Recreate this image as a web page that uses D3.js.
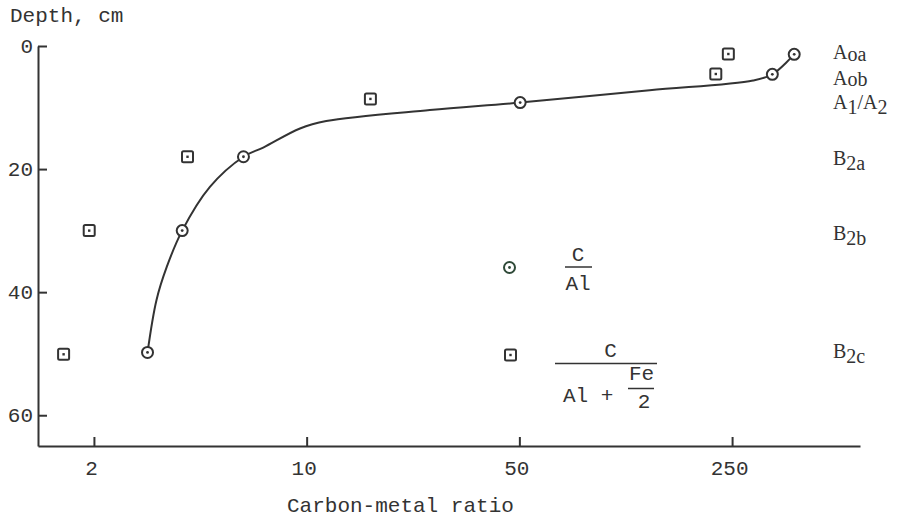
<!DOCTYPE html>
<html>
<head>
<meta charset="utf-8">
<script src="https://cdn.jsdelivr.net/npm/d3@7"></script>
<style>
  html, body { margin: 0; padding: 0; background: #fff; }
  svg { display: block; }
  .mono { font-family: "Liberation Mono", "DejaVu Sans Mono", monospace; fill: #333; }
  .serif { font-family: "Liberation Serif", "DejaVu Serif", serif; fill: #333; }
</style>
</head>
<body>
<svg id="chart" width="901" height="523"></svg>
<script>
// ---- data ----
// C/Al ratio (circles): ratio, depth (cm)
const circleRatio = [3.0, 3.9, 6.2, 50.3, 339, 400];
const circleDepth = [49.8, 30.0, 18.0, 9.2, 4.6, 1.35];
// C/(Al + Fe/2) ratio (squares)
const squareRatio = [1.59, 1.93, 4.06, 16.2, 221, 243];
const squareDepth = [50.1, 30.0, 18.0, 8.6, 4.55, 1.3];
// hand-drawn fitted curve through the C/Al points
const curveRatio = [3.0, 3.21, 3.47, 3.9, 4.81, 6.2, 7.2, 9.51, 11.6, 25.4, 50.3, 134, 293, 339, 400];
const curveDepth = [49.8, 41.3, 35.9, 30.0, 22.9, 18.0, 16.5, 13.4, 12.2, 10.4, 9.2, 7.2, 5.6, 4.6, 1.35];
// axis ticks
const xTicks = [2, 10, 50, 250];
const yTicks = [0, 20, 40, 60];
// horizon labels: segments [text, isSub], depth position
const horizonParts = [
  [["A",0],["oa",2]],
  [["A",0],["ob",1]],
  [["A",0],["1",1],["/A",0],["2",1]],
  [["B",0],["2a",1]],
  [["B",0],["2b",1]],
  [["B",0],["2c",1]]
];
const horizonDepth = [1.14, 5.3, 9.3, 18.4, 30.6, 49.8];

// ---- scales ----
const svg = d3.select("#chart");
const x = d3.scaleLog().domain([1.31, 658]).range([38, 860]);
const y = d3.scaleLinear().domain([0, 65]).range([46, 446]);
const ink = "#333";
const FS = 21;

// ---- axes ----
const yAxis = d3.axisLeft(y).tickValues(yTicks).tickSizeInner(-9).tickSizeOuter(0).tickPadding(5);
const gy = svg.append("g").attr("transform", "translate(38,0)").call(yAxis);
const xAxis = d3.axisBottom(x).tickValues(xTicks).tickFormat(d3.format("d")).tickSizeInner(-9).tickSizeOuter(0).tickPadding(14);
const gx = svg.append("g").attr("transform", "translate(0,446)").call(xAxis);
[gx, gy].forEach(g => {
  g.select(".domain").attr("stroke", ink).attr("stroke-width", 2);
  g.selectAll(".tick line").attr("stroke", ink).attr("stroke-width", 2);
  g.selectAll(".tick text").attr("class", "mono").attr("font-size", FS).attr("fill", ink);
});
gy.selectAll(".tick text").attr("dy", "0.30em");
gx.selectAll(".tick text").attr("dx", -3);

// axis titles
svg.append("text").attr("class", "mono").attr("x", 10).attr("y", 22)
  .attr("font-size", FS).text("Depth, cm");
svg.append("text").attr("class", "mono").attr("x", 287).attr("y", 512)
  .attr("font-size", FS).text("Carbon-metal ratio");

// ---- curve ----
const curvePts = curveRatio.map((r, i) => [r, curveDepth[i]]);
svg.append("path")
  .attr("d", d3.line().x(d => x(d[0])).y(d => y(d[1])).curve(d3.curveCatmullRom.alpha(0.5))(curvePts))
  .attr("fill", "none").attr("stroke", ink).attr("stroke-width", 2);

// ---- markers ----
function circleMark(g, cx, cy, col) {
  g.append("circle").attr("cx", cx).attr("cy", cy).attr("r", 5.5)
    .attr("fill", "#fff").attr("stroke", col).attr("stroke-width", 2);
  g.append("circle").attr("cx", cx).attr("cy", cy).attr("r", 1.4).attr("fill", col);
}
function squareMark(g, cx, cy, col) {
  g.append("rect").attr("x", cx - 5.5).attr("y", cy - 5.5).attr("width", 11).attr("height", 11)
    .attr("rx", 1.5).attr("fill", "#fff").attr("stroke", col).attr("stroke-width", 2);
  g.append("rect").attr("x", cx - 1.2).attr("y", cy - 1.2).attr("width", 2.4).attr("height", 2.4).attr("fill", col);
}
const gm = svg.append("g");
squareRatio.forEach((r, i) => squareMark(gm, x(r), y(squareDepth[i]), ink));
circleRatio.forEach((r, i) => circleMark(gm, x(r), y(circleDepth[i]), ink));

// ---- horizon labels ----
horizonParts.forEach((parts, i) => {
  const t = svg.append("text").attr("class", "serif").attr("font-size", 20)
    .attr("x", 833).attr("y", y(horizonDepth[i]) + 6);
  let prev = 0;
  parts.forEach(([s, sub]) => {
    const off = sub === 1 ? 5 : (sub === 2 ? 2 : 0);
    const o = (sub === 1 && i < 2) ? 1 : off;
    t.append("tspan").attr("dy", o - prev).text(s);
    prev = o;
  });
});

// ---- legend ----
const lg = svg.append("g");
circleMark(lg, 509.5, 267.5, "#2f4a38");
squareMark(lg, 510.5, 355, ink);
// C / Al
lg.append("text").attr("class", "mono").attr("font-size", FS).attr("x", 578).attr("y", 261)
  .attr("text-anchor", "middle").text("C");
lg.append("line").attr("x1", 565).attr("x2", 592).attr("y1", 267).attr("y2", 267)
  .attr("stroke", ink).attr("stroke-width", 1.5);
lg.append("text").attr("class", "mono").attr("font-size", FS).attr("x", 578).attr("y", 290)
  .attr("text-anchor", "middle").text("Al");
// C / (Al + Fe/2)
lg.append("text").attr("class", "mono").attr("font-size", FS).attr("x", 610.5).attr("y", 357)
  .attr("text-anchor", "middle").text("C");
lg.append("line").attr("x1", 555).attr("x2", 657).attr("y1", 363.5).attr("y2", 363.5)
  .attr("stroke", ink).attr("stroke-width", 1.5);
lg.append("text").attr("class", "mono").attr("font-size", FS).attr("x", 563).attr("y", 402)
  .text("Al +");
lg.append("text").attr("class", "mono").attr("font-size", FS).attr("x", 641.5).attr("y", 380)
  .attr("text-anchor", "middle").text("Fe");
lg.append("line").attr("x1", 628).attr("x2", 654).attr("y1", 388.5).attr("y2", 388.5)
  .attr("stroke", ink).attr("stroke-width", 1.5);
lg.append("text").attr("class", "mono").attr("font-size", FS).attr("x", 644).attr("y", 408)
  .attr("text-anchor", "middle").text("2");
</script>
</body>
</html>
